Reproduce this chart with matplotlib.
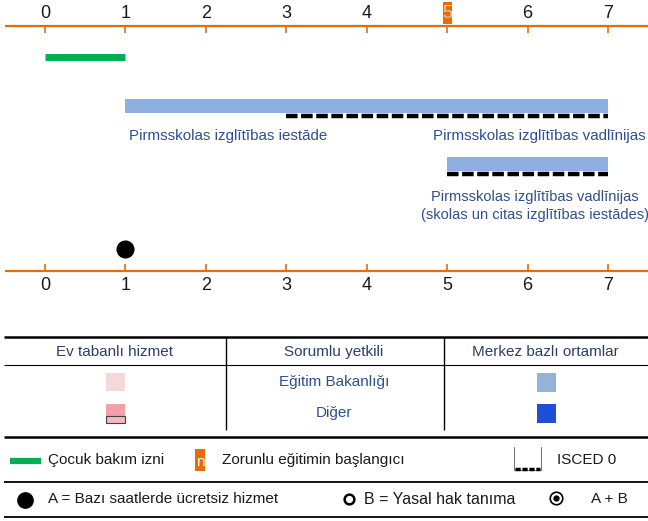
import matplotlib
matplotlib.use("Agg")
import matplotlib.pyplot as plt
from matplotlib.patches import Rectangle

# data
ages = [0, 1, 2, 3, 4, 5, 6, 7]
compulsory_age = 5
leave = (0, 1)                     # Çocuk bakım izni
centre_start = [1, 5]              # merkez bazlı ortamlar
centre_end = [7, 7]
isced_start = [3, 5]
isced_end = [7, 7]
free_hours_age = [1]
bar_labels_left = ["Pirmsskolas izglītības iestāde", ""]
bar_labels_right = ["Pirmsskolas izglītības vadlīnijas",
                    "Pirmsskolas izglītības vadlīnijas\n(skolas un citas izglītības iestādes)"]
table_head = ["Ev tabanlı hizmet", "Sorumlu yetkili", "Merkez bazlı ortamlar"]
table_rows = ["Eğitim Bakanlığı", "Diğer"]

FONT = ["Liberation Sans", "DejaVu Sans"]
ORANGE = "#e46c0a"
BLUE_TXT = "#2e4f8f"
LIGHT_BLUE = "#8eafdf"
DARK_BLUE = "#1f4fd6"

fig = plt.figure(figsize=(6.48, 5.21), dpi=100)

# timeline axes: x in years, y in pixels from top
ax = fig.add_axes([0, 0, 1, 1])
ax.set_xlim(-45 / 80.43, (648 - 45) / 80.43)
ax.set_ylim(521, 0)
ax.axis("off")

for y_line, tick_dir, lab_y in [(26, 1, 13), (271, -1, 285)]:
    ax.hlines(y_line, -0.5, 7.5, color=ORANGE, lw=1.6)
    for a in ages:
        ax.vlines(a, y_line, y_line + 7 * tick_dir, color=ORANGE, lw=1.2)
        if y_line == 26 and a == compulsory_age:
            ax.add_patch(Rectangle((a - 0.055, 2), 0.11, 22, color=ORANGE, lw=0))
            ax.text(a, lab_y, str(a), ha="center", va="center", fontsize=13,
                    color="#f7c8a0", family=FONT)
        else:
            ax.text(a, lab_y, str(a), ha="center", va="center", fontsize=13,
                    color="#1a1a1a", family=FONT)

# parental leave
ax.hlines(57, leave[0], leave[1], color="#00b050", lw=5)

# centre based bars with ISCED 0 dashes
bar_y = [106, 164]
for i in range(len(centre_start)):
    y = bar_y[i]
    ax.add_patch(Rectangle((centre_start[i], y - 7), centre_end[i] - centre_start[i], 14,
                           color=LIGHT_BLUE, lw=0))
    ax.hlines(y + 10, isced_start[i], isced_end[i], color="black", lw=3.2,
              linestyles=(0, (2.6, 0.8)))

ax.text(centre_start[0] + 0.05, 136, bar_labels_left[0], ha="left", va="center",
        fontsize=10.9, color=BLUE_TXT, family=FONT)
ax.text(7.47, 136, bar_labels_right[0], ha="right", va="center",
        fontsize=10.9, color=BLUE_TXT, family=FONT)
ax.text(6.09, 206, bar_labels_right[1], ha="center", va="center",
        fontsize=10.5, color=BLUE_TXT, family=FONT, linespacing=1.4)

# free hours dot
ax.plot(free_hours_age, [249], "o", color="black", ms=12)

# table and legend: pixel axes
lx = fig.add_axes([0, 0, 1, 1])
lx.set_xlim(0, 648)
lx.set_ylim(521, 0)
lx.axis("off")

lx.hlines(337, 4, 648, color="black", lw=1.8)
lx.hlines(365, 4, 648, color="black", lw=0.8)
lx.hlines(437, 4, 648, color="black", lw=1.8)
lx.vlines([226, 444], 337, 430, color="black", lw=1)
for x, t in zip([114, 334, 545], table_head):
    lx.text(x, 352, t, ha="center", va="center", fontsize=11, color="#2b3f66", family=FONT)
for y, t in zip([382, 413], table_rows):
    lx.text(334, y, t, ha="center", va="center", fontsize=11, color=BLUE_TXT, family=FONT)

lx.add_patch(Rectangle((106, 373), 19, 18, color="#f5d9d6", lw=0))
lx.add_patch(Rectangle((106, 404), 19, 12, color="#f4a0a8", lw=0))
lx.add_patch(Rectangle((106, 416), 19, 7, facecolor="#f4b8bd", edgecolor="#444444", lw=0.8))
lx.add_patch(Rectangle((537, 373), 19, 19, color="#95b3d7", lw=0))
lx.add_patch(Rectangle((537, 404), 19, 19, color=DARK_BLUE, lw=0))

# legend row 1
lx.hlines(461, 10, 41, color="#00b050", lw=4.5)
lx.text(48, 460, "Çocuk bakım izni", va="center", fontsize=11, color="#1a1a1a", family=FONT)
lx.add_patch(Rectangle((195, 449), 10, 22, color=ORANGE, lw=0))
lx.text(200, 462, "n", ha="center", va="center", fontsize=11, color="white", family=FONT)
lx.text(222, 460, "Zorunlu eğitimin başlangıcı", va="center", fontsize=11,
        color="#1a1a1a", family=FONT)
lx.plot([514, 514, 541, 541], [447, 470, 470, 447], color="#555555", lw=0.6)
lx.hlines(469, 515, 540, color="black", lw=2.5, linestyles=(0, (1.5, 0.5)))
lx.text(557, 460, "ISCED 0", va="center", fontsize=11, color="#1a1a1a", family=FONT)
lx.hlines(482, 4, 648, color="black", lw=1.3)

# legend row 2
lx.plot([25], [500], "o", color="black", ms=11)
lx.text(48, 499, "A = Bazı saatlerde ücretsiz hizmet", va="center", fontsize=11,
        color="#1a1a1a", family=FONT)
lx.plot([349], [499], "o", mfc="white", mec="black", mew=1.8, ms=7)
lx.text(364, 499, "B = Yasal hak tanıma", va="center", fontsize=11.5, color="#1a1a1a", family=FONT)
lx.plot([556], [498], "o", mfc="white", mec="black", mew=1.2, ms=9)
lx.plot([556], [498], "o", color="black", ms=3.5)
lx.text(591, 499, "A + B", va="center", fontsize=11, color="#1a1a1a", family=FONT)
lx.hlines(517, 4, 648, color="black", lw=1.3)

fig.savefig("out.png", dpi=100)
